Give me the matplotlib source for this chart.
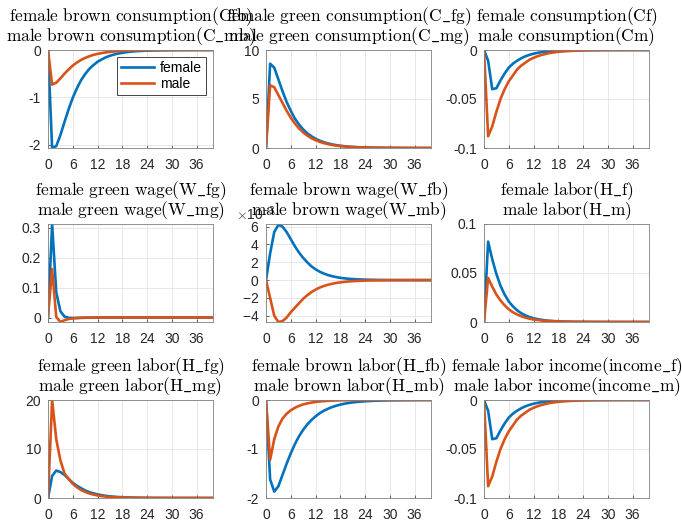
import numpy as np
import matplotlib
matplotlib.use("Agg")
from matplotlib import pyplot as plt
from matplotlib.ticker import ScalarFormatter, FuncFormatter

plt.rcParams['font.family'] = ['Liberation Sans', 'DejaVu Sans']
plt.rcParams['mathtext.fontset'] = 'cm'

periods = list(range(41))
xticks = [0, 6, 12, 18, 24, 30, 36]
series_names = ['female', 'male']

# brown consumption
female_cb = [0, -2.07, -2.03, -1.80, -1.52, -1.25, -1.01, -0.81, -0.64, -0.51,
             -0.40, -0.32, -0.25, -0.20, -0.155, -0.122, -0.096, -0.075, -0.059, -0.046,
             -0.036, -0.028, -0.022, -0.017, -0.013, -0.010, -0.008, -0.006, -0.005, -0.004,
             -0.003, -0.002, -0.002, -0.001, -0.001, -0.001, 0, 0, 0, 0, 0]
male_cb = [0, -0.73, -0.69, -0.60, -0.50, -0.41, -0.33, -0.265, -0.21, -0.167,
           -0.132, -0.104, -0.082, -0.065, -0.051, -0.040, -0.031, -0.024, -0.019, -0.015,
           -0.012, -0.009, -0.007, -0.0055, -0.0043, -0.0033, -0.0026, -0.002, -0.0016, -0.0012,
           -0.001, -0.0007, -0.0005, -0.0004, -0.0003, -0.0002, -0.0002, -0.0001, 0, 0, 0]

# green consumption
female_cg = [0, 8.6, 8.2, 7.0, 5.8, 4.7, 3.8, 3.0, 2.4, 1.9,
             1.5, 1.2, 0.95, 0.75, 0.59, 0.47, 0.37, 0.29, 0.23, 0.18,
             0.14, 0.11, 0.09, 0.07, 0.055, 0.043, 0.034, 0.027, 0.021, 0.016,
             0.013, 0.01, 0.008, 0.006, 0.005, 0.004, 0.003, 0.002, 0.002, 0.001, 0.001]
male_cg = [0, 6.4, 6.2, 5.4, 4.6, 3.8, 3.1, 2.5, 2.0, 1.6,
           1.27, 1.0, 0.8, 0.63, 0.5, 0.4, 0.31, 0.25, 0.2, 0.16,
           0.12, 0.095, 0.075, 0.06, 0.047, 0.037, 0.029, 0.023, 0.018, 0.014,
           0.011, 0.009, 0.007, 0.0055, 0.0043, 0.0034, 0.0027, 0.002, 0.0016, 0.0013, 0.001]

# total consumption
female_c = [0, -0.011, -0.040, -0.039, -0.031, -0.024, -0.018, -0.014, -0.011, -0.0085,
            -0.0065, -0.005, -0.0038, -0.0029, -0.0022, -0.0017, -0.0013, -0.001, -0.0008, -0.0006,
            -0.00045, -0.00035, -0.00027, -0.0002, -0.00015, -0.00012, -0.0001, -0.00007, -0.00005, -0.00004,
            -0.00003, -0.00002, -0.00002, -0.00001, -0.00001, 0, 0, 0, 0, 0, 0]
male_c = [0, -0.088, -0.078, -0.063, -0.050, -0.040, -0.032, -0.026, -0.020, -0.016,
          -0.013, -0.010, -0.008, -0.0063, -0.005, -0.004, -0.003, -0.0024, -0.0019, -0.0015,
          -0.0012, -0.0009, -0.0007, -0.00055, -0.00043, -0.00034, -0.00027, -0.0002, -0.00016, -0.00012,
          -0.0001, -0.00008, -0.00006, -0.00005, -0.00004, -0.00003, -0.00002, -0.00002, -0.00001, -0.00001, 0]

# green wage
female_wg = [0.002, 0.313, 0.085, 0.022, 0.004, 0.0, -0.0005, -0.0003, 0.0, 0.0003,
             0.0005, 0.0007, 0.0008, 0.0009, 0.001, 0.001, 0.001, 0.001, 0.001, 0.001,
             0.001, 0.001, 0.001, 0.001, 0.001, 0.001, 0.001, 0.001, 0.001, 0.001,
             0.001, 0.001, 0.001, 0.001, 0.001, 0.001, 0.001, 0.001, 0.001, 0.001, 0.001]
male_wg = [0.004, 0.163, 0.003, -0.014, -0.008, -0.004, -0.002, -0.001, 0.0, 0.0003,
           0.0005, 0.0007, 0.0008, 0.0009, 0.001, 0.001, 0.001, 0.001, 0.001, 0.001,
           0.001, 0.001, 0.001, 0.001, 0.001, 0.001, 0.001, 0.001, 0.001, 0.001,
           0.001, 0.001, 0.001, 0.001, 0.001, 0.001, 0.001, 0.001, 0.001, 0.001, 0.001]

# brown wage
female_wb = [0, 3.0e-3, 5.4e-3, 6.2e-3, 6.0e-3, 5.4e-3, 4.6e-3, 3.8e-3, 3.1e-3, 2.5e-3,
             2.0e-3, 1.55e-3, 1.22e-3, 0.95e-3, 0.74e-3, 0.57e-3, 0.44e-3, 0.34e-3, 0.26e-3, 0.2e-3,
             0.155e-3, 0.12e-3, 0.09e-3, 0.07e-3, 0.054e-3, 0.042e-3, 0.032e-3, 0.025e-3, 0.019e-3, 0.015e-3,
             0.011e-3, 0.009e-3, 0.007e-3, 0.005e-3, 0.004e-3, 0.003e-3, 0.002e-3, 0.002e-3, 0.001e-3, 0.001e-3, 0]
male_wb = [0, -2.0e-3, -4.0e-3, -4.7e-3, -4.6e-3, -4.2e-3, -3.6e-3, -3.1e-3, -2.6e-3, -2.1e-3,
           -1.7e-3, -1.35e-3, -1.07e-3, -0.84e-3, -0.66e-3, -0.52e-3, -0.41e-3, -0.32e-3, -0.25e-3, -0.195e-3,
           -0.15e-3, -0.117e-3, -0.09e-3, -0.07e-3, -0.054e-3, -0.042e-3, -0.032e-3, -0.025e-3, -0.019e-3, -0.015e-3,
           -0.011e-3, -0.009e-3, -0.007e-3, -0.005e-3, -0.004e-3, -0.003e-3, -0.002e-3, -0.002e-3, -0.001e-3, -0.001e-3, 0]

# total labor
female_h = [0, 0.082, 0.064, 0.049, 0.037, 0.028, 0.021, 0.016, 0.012, 0.009,
            0.0068, 0.0051, 0.0038, 0.0029, 0.0022, 0.0016, 0.0012, 0.0009, 0.0007, 0.0005,
            0.0004, 0.0003, 0.0002, 0.00016, 0.00012, 0.00009, 0.00007, 0.00005, 0.00004, 0.00003,
            0.00002, 0.00002, 0.00001, 0.00001, 0, 0, 0, 0, 0, 0, 0]
male_h = [0, 0.045, 0.036, 0.028, 0.022, 0.017, 0.013, 0.010, 0.0077, 0.0059,
          0.0045, 0.0034, 0.0026, 0.002, 0.0015, 0.0011, 0.0009, 0.0007, 0.0005, 0.0004,
          0.0003, 0.0002, 0.00016, 0.00012, 0.00009, 0.00007, 0.00005, 0.00004, 0.00003, 0.00002,
          0.00002, 0.00001, 0.00001, 0, 0, 0, 0, 0, 0, 0, 0]

# green labor
female_hg = [0, 4.5, 5.6, 5.3, 4.7, 3.9, 3.1, 2.5, 2.0, 1.55,
             1.2, 0.95, 0.74, 0.57, 0.44, 0.34, 0.26, 0.2, 0.155, 0.12,
             0.09, 0.07, 0.054, 0.042, 0.032, 0.025, 0.019, 0.015, 0.011, 0.009,
             0.007, 0.005, 0.004, 0.003, 0.002, 0.002, 0.001, 0.001, 0.001, 0, 0]
male_hg = [0, 20.0, 12.0, 7.7, 5.0, 3.9, 2.9, 2.2, 1.65, 1.25,
           0.93, 0.7, 0.52, 0.39, 0.29, 0.22, 0.16, 0.12, 0.09, 0.068,
           0.05, 0.038, 0.028, 0.021, 0.016, 0.012, 0.009, 0.007, 0.005, 0.004,
           0.003, 0.002, 0.002, 0.001, 0.001, 0.001, 0, 0, 0, 0, 0]

# brown labor
female_hb = [0, -1.62, -1.87, -1.76, -1.53, -1.30, -1.09, -0.90, -0.74, -0.61,
             -0.50, -0.41, -0.335, -0.27, -0.22, -0.18, -0.145, -0.117, -0.094, -0.076,
             -0.061, -0.049, -0.04, -0.032, -0.026, -0.021, -0.017, -0.013, -0.011, -0.009,
             -0.007, -0.0055, -0.0045, -0.0036, -0.0029, -0.0023, -0.0018, -0.0015, -0.0012, -0.001, -0.0008]
male_hb = [0, -1.22, -0.80, -0.54, -0.38, -0.28, -0.21, -0.16, -0.12, -0.09,
           -0.07, -0.053, -0.04, -0.03, -0.023, -0.017, -0.013, -0.01, -0.0075, -0.0056,
           -0.0042, -0.0032, -0.0024, -0.0018, -0.0014, -0.001, -0.0008, -0.0006, -0.0004, -0.0003,
           -0.0002, -0.0002, -0.0001, -0.0001, 0, 0, 0, 0, 0, 0, 0]

# labor income
female_inc = [0, -0.011, -0.040, -0.039, -0.031, -0.024, -0.018, -0.014, -0.011, -0.0085,
              -0.0065, -0.005, -0.0038, -0.0029, -0.0022, -0.0017, -0.0013, -0.001, -0.0008, -0.0006,
              -0.00045, -0.00035, -0.00027, -0.0002, -0.00015, -0.00012, -0.0001, -0.00007, -0.00005, -0.00004,
              -0.00003, -0.00002, -0.00002, -0.00001, -0.00001, 0, 0, 0, 0, 0, 0]
male_inc = [0, -0.088, -0.078, -0.063, -0.050, -0.040, -0.032, -0.026, -0.020, -0.016,
            -0.013, -0.010, -0.008, -0.0063, -0.005, -0.004, -0.003, -0.0024, -0.0019, -0.0015,
            -0.0012, -0.0009, -0.0007, -0.00055, -0.00043, -0.00034, -0.00027, -0.0002, -0.00016, -0.00012,
            -0.0001, -0.00008, -0.00006, -0.00005, -0.00004, -0.00003, -0.00002, -0.00002, -0.00001, -0.00001, 0]

titles = [
    ('female brown consumption(Cfb)', 'male brown consumption(C_mb)'),
    ('female green consumption(C_fg)', 'male green consumption(C_mg)'),
    ('female consumption(Cf)', 'male consumption(Cm)'),
    ('female green wage(W_fg)', 'male green wage(W_mg)'),
    ('female brown wage(W_fb)', 'male brown wage(W_mb)'),
    ('female labor(H_f)', 'male labor(H_m)'),
    ('female green labor(H_fg)', 'male green labor(H_mg)'),
    ('female brown labor(H_fb)', 'male brown labor(H_mb)'),
    ('female labor income(income_f)', 'male labor income(income_m)'),
]
female_data = [female_cb, female_cg, female_c, female_wg, female_wb, female_h, female_hg, female_hb, female_inc]
male_data = [male_cb, male_cg, male_c, male_wg, male_wb, male_h, male_hg, male_hb, male_inc]
ylims = [(-2.07, 0), (0, 10), (-0.1, 0), (-0.014, 0.313), (-4.7e-3, 6.3e-3),
         (0, 0.1), (0, 20), (-2, 0), (-0.1, 0)]
yticks = [[-2, -1, 0], [0, 5, 10], [-0.1, -0.05, 0], [0, 0.1, 0.2, 0.3],
          [-4e-3, -2e-3, 0, 2e-3, 4e-3, 6e-3], [0, 0.05, 0.1], [0, 10, 20],
          [-2, -1, 0], [-0.1, -0.05, 0]]

BLUE = '#0072BD'
ORANGE = '#D95319'
W, H = 682, 521
lefts = [48, 266, 484]
tops = [50, 224, 400]
aw, ah = 165, 98


def mtext(s):
    return '$\\mathrm{' + s.replace(' ', '\\ ').replace('_', '\\_') + '}$'


fig = plt.figure(figsize=(W / 100, H / 100), dpi=100)
for i in range(9):
    r, c = divmod(i, 3)
    ax = fig.add_axes([lefts[c] / W, 1 - (tops[r] + ah) / H, aw / W, ah / H])
    ax.plot(periods, female_data[i], color=BLUE, lw=1.9, label=series_names[0])
    ax.plot(periods, male_data[i], color=ORANGE, lw=1.9, label=series_names[1])
    ax.set_xlim(0, 40)
    ax.set_ylim(*ylims[i])
    ax.set_xticks(xticks)
    ax.set_yticks(yticks[i])
    ax.grid(True, color='#e3e3e3', lw=0.6)
    ax.set_axisbelow(True)
    ax.tick_params(direction='in', length=2, width=0.5, colors='#262626', labelsize=10)
    ax.tick_params(axis='x', pad=7.5)
    ax.tick_params(axis='y', pad=5)
    for sp in ax.spines.values():
        sp.set_color('#808080')
        sp.set_linewidth(0.6)
    if i == 4:
        fmt = ScalarFormatter(useMathText=True)
        fmt.set_powerlimits((-2, 2))
        ax.yaxis.set_major_formatter(fmt)
        off = ax.yaxis.get_offset_text()
        off.set_fontsize(10)
        off.set_color('#262626')
        off.set_x(-0.18)
        off.set_horizontalalignment('left')
    else:
        ax.yaxis.set_major_formatter(FuncFormatter(lambda v, p: '%g' % v))
    # two title lines, as separate texts so the line gap stays tight
    ax.annotate(mtext(titles[i][0]), xy=(0.5, 1), xycoords='axes fraction',
                xytext=(0, 21), textcoords='offset points', ha='center', va='baseline',
                fontsize=12.5, color='black')
    ax.annotate(mtext(titles[i][1]), xy=(0.5, 1), xycoords='axes fraction',
                xytext=(0, 6.5), textcoords='offset points', ha='center', va='baseline',
                fontsize=12.5, color='black')
    if i == 0:
        leg = ax.legend(loc='upper right', fontsize=10, fancybox=False, framealpha=1,
                        edgecolor='#262626', handlelength=2.4, borderaxespad=0.5,
                        handletextpad=0.4, labelspacing=0.15, borderpad=0.3)
        leg.get_frame().set_linewidth(0.6)

fig.savefig('out.png', dpi=100)
